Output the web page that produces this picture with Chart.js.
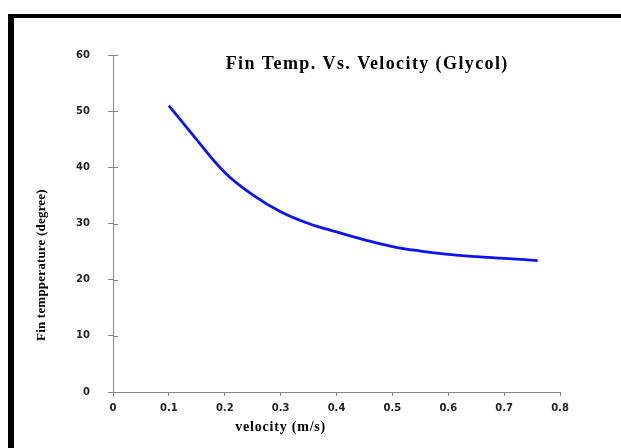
<!DOCTYPE html>
<html>
<head>
<meta charset="utf-8">
<script src="https://cdn.jsdelivr.net/npm/chart.js@4/dist/chart.umd.min.js"></script>
<style>
  html, body { margin: 0; padding: 0; background: #fff; }
  #wrap { position: relative; width: 621px; height: 448px; overflow: hidden; }
  #c { position: absolute; left: 0; top: 0; }
  #frame { position: absolute; left: 8px; top: 14px; width: 620px; height: 440px;
    border-top: 4px solid #000; border-left: 6px solid #000; pointer-events: none; }
</style>
</head>
<body>
<div id="wrap">
  <canvas id="c" width="621" height="448"></canvas>
  <div id="frame"></div>
</div>
<script>
const chartTitle = 'Fin Temp. Vs. Velocity (Glycol)';
const xTitle = 'velocity (m/s)';
const yTitle = 'Fin tempperature (degree)';

// velocity (m/s) and fin temperature
const velocity = [0.10, 0.15, 0.20, 0.25, 0.30, 0.35, 0.40, 0.45, 0.50, 0.55, 0.60, 0.65, 0.70, 0.76];
const finTemp  = [51.0, 44.9, 39.1, 35.1, 32.1, 30.0, 28.5, 27.1, 25.9, 25.1, 24.5, 24.1, 23.8, 23.4];

const xTicks = [0, 0.1, 0.2, 0.3, 0.4, 0.5, 0.6, 0.7, 0.8];
const yTicks = [0, 10, 20, 30, 40, 50, 60];

const axisGray = '#868686';
const tickFont = { family: 'DejaVu Sans', size: 10, weight: 'bold' };

const extras = {
  id: 'extras',
  afterDraw(chart) {
    const { ctx, chartArea: a, scales: { x, y } } = chart;
    ctx.save();
    // inner half of the y tick marks
    ctx.strokeStyle = axisGray;
    ctx.lineWidth = 1;
    yTicks.forEach((v) => {
      const py = Math.round(y.getPixelForValue(v)) + 0.5;
      ctx.beginPath();
      ctx.moveTo(a.left, py);
      ctx.lineTo(a.left + 5, py);
      ctx.stroke();
    });
    ctx.fillStyle = '#000';
    ctx.textAlign = 'center';
    ctx.textBaseline = 'middle';
    ctx.letterSpacing = '1.4px';
    ctx.font = 'bold 18px "Liberation Serif"';
    ctx.fillText(chartTitle, x.getPixelForValue(0.455), y.getPixelForValue(58.3));
    ctx.letterSpacing = '0.8px';
    ctx.font = 'bold 14px "Liberation Serif"';
    ctx.fillText(xTitle, x.getPixelForValue(0.3), 427);
    ctx.translate(42, y.getPixelForValue(22.6));
    ctx.rotate(-Math.PI / 2);
    ctx.letterSpacing = '0.2px';
    ctx.font = 'bold 13px "Liberation Serif"';
    ctx.fillText(yTitle, 0, 0);
    ctx.restore();
  }
};

new Chart(document.getElementById('c'), {
  type: 'line',
  data: {
    datasets: [{
      data: velocity.map((v, i) => ({ x: v, y: finTemp[i] })),
      borderColor: '#0a14f5',
      borderWidth: 2.8,
      pointRadius: 0,
      tension: 0.4,
      fill: false
    }]
  },
  options: {
    responsive: false,
    animation: false,
    devicePixelRatio: 1,
    layout: { padding: { top: 55, right: 61, left: 0, bottom: 0 } },
    plugins: { legend: { display: false }, tooltip: { enabled: false }, title: { display: false } },
    scales: {
      x: {
        type: 'linear', min: 0, max: 0.8,
        afterBuildTicks: (s) => { s.ticks = xTicks.map((v) => ({ value: v })); },
        afterFit: (s) => { s.height = 56; },
        ticks: { font: tickFont, color: '#222', padding: 6, maxRotation: 0,
          callback: (v) => String(Math.round(v * 10) / 10) },
        grid: { drawOnChartArea: false, drawTicks: true, tickLength: 4, color: axisGray },
        border: { color: axisGray, width: 1 }
      },
      y: {
        min: 0, max: 60,
        afterBuildTicks: (s) => { s.ticks = yTicks.map((v) => ({ value: v })); },
        afterFit: (s) => { s.width = 113; },
        ticks: { font: tickFont, color: '#222', padding: 18 },
        grid: { drawOnChartArea: false, drawTicks: true, tickLength: 5, color: axisGray },
        border: { color: axisGray, width: 1 }
      }
    }
  },
  plugins: [extras]
});
</script>
</body>
</html>
